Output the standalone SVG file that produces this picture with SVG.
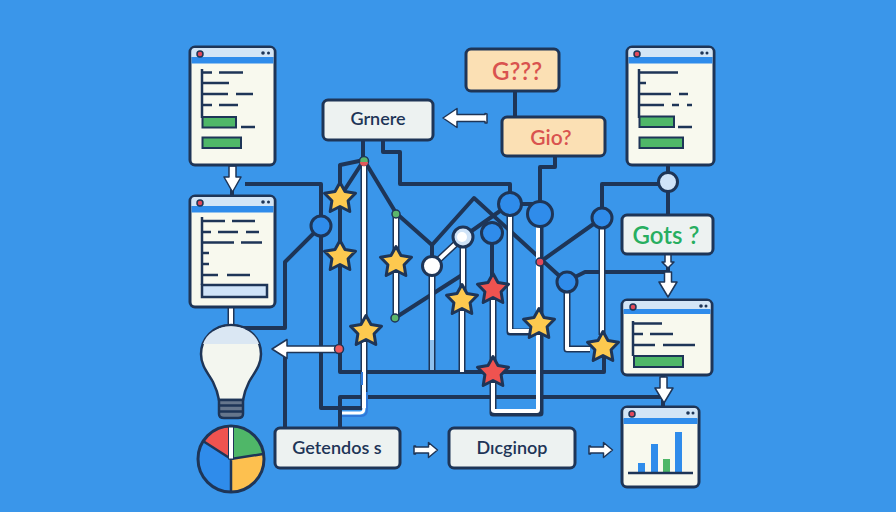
<svg xmlns="http://www.w3.org/2000/svg" width="896" height="512" viewBox="0 0 896 512">
<style>
.bg{fill:#3a96ea}
.w{fill:#f8f9ee;stroke:#1e3557;stroke-width:3}
.bar{fill:#d3e5f6}
.band{fill:#2f8ceb}
.l{stroke:#1e3557;stroke-width:2.5;fill:none}
.g{fill:#4fb768;stroke:#1e3557;stroke-width:2}
.dark{stroke:#1e3557;stroke-width:4;fill:none;stroke-linejoin:round}
.po{stroke:#1e3557;stroke-width:7;fill:none;stroke-linejoin:round}
.pw{stroke:#fff;stroke-width:4;fill:none;stroke-linejoin:round}
.n{fill:#2f8ceb;stroke:#1e3557;stroke-width:3}
.box{stroke:#1e3557;stroke-width:3}
.lt{fill:#edf2f1}
.or{fill:#fbe0b4}
.a{fill:#fff;stroke:#1e3557;stroke-width:1.500;stroke-linejoin:round}
.t{font-family:Lato,"Noto Sans",sans-serif;text-anchor:middle;font-weight:600}
.star{fill:#fdc94f;stroke:#1e3557;stroke-width:3;stroke-linejoin:round}
.rs{fill:#ef5350;stroke:#1e3557;stroke-width:3;stroke-linejoin:round}
.red{fill:#e2495a;stroke:#1e3557;stroke-width:1.500}
.k{fill:#1e3557}
</style>
<defs>
<polygon id="s" points="0,-15.500 5,-6.500 15.500,-4.800 8.100,2.700 9.800,13.500 0,8.500 -9.800,13.500 -8.100,2.700 -15.500,-4.800 -5,-6.500"/>
</defs>
<rect class="bg" width="896" height="512"/>

<g id="connectors">
<path class="dark" d="M245,184H321V408H362"/>
<path class="dark" d="M364,160L340,165V372H604V347"/>
<path class="dark" d="M363,140V160M383,140V152H400V184H510V200"/>
<path class="dark" d="M364,160L340,197M364,160L396,213L432,245L474,198L566,282"/>
<path class="dark" d="M432,243V266"/>
<path class="dark" d="M321,226L285,262V328H243M285,349V428"/>
<path class="dark" d="M340,428V397H661"/>
<path class="dark" d="M395,318L462,275M463,237L510,204M510,204H540"/>
<path class="dark" d="M555,156V167H540V202"/>
<path class="dark" d="M492,233V288"/>
<path class="dark" d="M540,262L602,218V184H668M668,165V215M668,254V272H585L575,277"/>
<path class="dark" d="M515,91V117"/>
<path class="dark" d="M232,165V196M663,375V407"/>
<path class="po" d="M364,160V408"/>
<path class="pw" d="M364,160V408"/>
<path d="M342,413H360Q364,413 364,408" fill="none" stroke="#fff" stroke-width="3"/>
<path d="M342,416H361Q367,416 367,409V392M362,372V385" fill="none" stroke="#2f78d8" stroke-width="2"/>
<path class="po" d="M396,213V317M432,266V372M463,237V290M462,310V372M432,266L463,237"/>
<path class="pw" d="M396,213V317M432,266V340M463,237V290M462,310V372M432,266L463,237"/>
<path stroke="#8fc1ee" stroke-width="4" d="M432,340V370"/>
<path class="po" d="M493,300V413H540V214M510,216V332H530M602,228V335M567,292V349H590"/>
<path class="pw" d="M493,300V410Q493,411 495,411H537Q538,411 538,409V214M510,216V331H530M602,228V335M567,292V349H590"/>
<path class="po" d="M231,307V325"/>
<path class="pw" d="M231,307V325"/>
</g>

<g id="arrows">
<path class="a" d="M229,166h7v11h5l-8.500,15l-8.500,-15h5z"/>
<path class="a" d="M487,114v9h-2v-1.500h-28v6l-14,-9.500l14,-9.500v6h28v-1z"/>
<path class="a" d="M339,346v6.500h-52v6l-15,-9.500l15,-9.500v6.500z"/>
<path class="a" d="M414,446v8h1.500v-1h13v4.500l9,-7.500l-9,-7.500v4.500h-13v-1z" transform="translate(0,0)"/>
<path class="a" d="M589,446v8h1.500v-1h13v4.500l9,-7.500l-9,-7.500v4.500h-13v-1z"/>
<path class="a" d="M665,254h6v8h3l-6,6l-6,-6h3z"/>
<path class="a" d="M664.500,272h7v10h5.500l-9,15l-9,-15h5.500z"/>
<path class="a" d="M660,377h7v11h6l-9,15l-9,-15h5z"/>
</g>

<g id="win1">
<rect class="w" x="190" y="47" width="85" height="118" rx="5"/>
<path class="bar" d="M191.500,50a3,3 0 0 1 3,-2h76a3,3 0 0 1 3,2v7h-82z"/>
<rect class="band" x="191.500" y="57" width="82" height="6.500"/>
<circle class="red" cx="200" cy="54" r="3"/>
<circle class="k" cx="263" cy="53" r="1.800"/><circle class="k" cx="268.500" cy="53" r="1.500"/>
<path class="l" d="M202,69V118M202,72.500H212M219,72.500H243M202,83H229M202,94H228M236,94H253M202,105H212M219,105H238M241,127H255"/>
<rect class="g" x="202.500" y="117" width="33.500" height="10.500"/>
<rect class="g" x="202.500" y="137.500" width="38.500" height="10.500"/>
</g>

<g id="win2">
<rect class="w" x="190" y="196" width="85" height="111" rx="5"/>
<path class="bar" d="M191.500,199a3,3 0 0 1 3,-2h76a3,3 0 0 1 3,2v7h-82z"/>
<rect class="band" x="191.500" y="206" width="82" height="6.500"/>
<circle class="red" cx="200" cy="203" r="3"/>
<circle class="k" cx="263" cy="202" r="1.800"/><circle class="k" cx="268.500" cy="202" r="1.500"/>
<path class="l" d="M202,217V285M202,221H225M232,221H255M202,232H211M218,232H238M246,232H259M202,242.500H234M241,242.500H262M202,253H209M202,264H209M202,275H218M227,275H250"/>
<rect x="202" y="285" width="65" height="12" fill="#cfe3f8" stroke="#1e3557" stroke-width="2.500"/>
</g>

<g id="win3">
<rect class="w" x="627" y="47" width="87" height="118" rx="5"/>
<path class="bar" d="M628.500,50a3,3 0 0 1 3,-2h78a3,3 0 0 1 3,2v7h-84z"/>
<rect class="band" x="628.500" y="57" width="84" height="6.500"/>
<circle class="red" cx="637" cy="54" r="3"/>
<circle class="k" cx="702" cy="53" r="1.800"/><circle class="k" cx="707" cy="53" r="1.500"/>
<path class="l" d="M639,69V118M639,72.500H678M639,83H646M639,94H671M679,94H688M639,105H664M672,105H679M687,105H692M678,127H692"/>
<rect class="g" x="639.500" y="116.500" width="34.500" height="10.500"/>
<rect class="g" x="639.500" y="137.500" width="43.500" height="10.500"/>
</g>

<g id="win4">
<rect class="w" x="622" y="300" width="90" height="75" rx="5"/>
<path class="bar" d="M623.500,303a3,3 0 0 1 3,-2h81a3,3 0 0 1 3,2v7h-87z"/>
<rect class="band" x="623.500" y="309" width="87" height="5"/>
<circle class="red" cx="633" cy="307" r="3"/>
<circle class="k" cx="701" cy="306" r="1.800"/><circle class="k" cx="706" cy="306" r="1.500"/>
<path class="l" d="M633,321V356M633,323.500H662M633,334H643M650,334H673M633,345H655M663,345H695"/>
<rect class="g" x="634" y="356" width="49" height="11"/>
</g>

<g id="win5">
<rect class="w" x="622" y="407" width="77" height="80" rx="5"/>
<path class="bar" d="M623.500,410a3,3 0 0 1 3,-2h68a3,3 0 0 1 3,2v9h-74z"/>
<rect class="band" x="623.500" y="418" width="74" height="6"/>
<circle class="red" cx="632" cy="414" r="3"/>
<circle class="k" cx="688" cy="413" r="1.800"/><circle class="k" cx="693" cy="413" r="1.500"/>
<rect class="band" x="638" y="463" width="7" height="10"/>
<rect class="band" x="651" y="444" width="7" height="29"/>
<rect x="663" y="459" width="7" height="14" fill="#4fb768"/>
<rect class="band" x="675" y="432" width="7" height="41"/>
<path class="l" d="M628,473H693"/>
</g>

<g id="grnere"><rect class="box lt" x="323" y="100" width="110" height="40" rx="5"/><text class="t" x="378" y="125" font-size="18" fill="#1e3557">Grnere</text></g>
<g id="g-q"><rect class="box or" x="466" y="49" width="93" height="42" rx="5"/><text class="t" x="517" y="80" font-size="24" fill="#d9534f">G???</text></g>
<g id="gio"><rect class="box or" x="502" y="117" width="103" height="39" rx="5"/><text class="t" x="551" y="145" font-size="21" fill="#d9534f">Gio?</text></g>
<g id="gots"><rect class="box lt" x="622" y="215" width="91" height="39" rx="5"/><text class="t" x="666" y="244" font-size="24" fill="#27ae60">Gots ?</text></g>
<g id="getendos"><rect class="box lt" x="275" y="428" width="125" height="40" rx="5"/><text class="t" x="337" y="454" font-size="18" fill="#1e3557">Getendos s</text></g>
<g id="dicginop"><rect class="box lt" x="449" y="428" width="126" height="40" rx="5"/><text class="t" x="512" y="454" font-size="18" fill="#1e3557">Dıcginop</text></g>

<g id="junctions">
<circle class="n" cx="321" cy="226" r="10"/>
<circle class="n" cx="510" cy="204" r="11.500"/>
<circle class="n" cx="540" cy="214" r="12.500"/>
<circle class="n" cx="492" cy="233" r="10.500"/>
<circle class="n" cx="602" cy="218" r="10"/>
<circle class="n" cx="567" cy="282" r="10"/>
<circle cx="668" cy="182" r="9.500" fill="#cfe3f8" stroke="#1e3557" stroke-width="3"/>
<circle cx="432" cy="266" r="9.500" fill="#fff" stroke="#1e3557" stroke-width="3"/>
<circle cx="463" cy="237" r="10" fill="#cfe3f8" stroke="#1e3557" stroke-width="3"/>
<circle cx="462" cy="237" r="5" fill="#fff"/>
<circle cx="364" cy="161" r="4.500" fill="#5bb56c" stroke="#1e3557" stroke-width="1.500"/>
<path d="M360,162h8a4,4 0 0 1 -8,0z" fill="#e2595a"/>
<circle cx="396" cy="214" r="4" fill="#5bb56c" stroke="#1e3557" stroke-width="1.500"/>
<circle cx="395" cy="318" r="4" fill="#5bb56c" stroke="#1e3557" stroke-width="1.500"/>
<circle cx="339" cy="349" r="4.500" fill="#ee5a5f" stroke="#1e3557" stroke-width="1.500"/>
<circle cx="540" cy="262" r="4" fill="#e2495a" stroke="#1e3557" stroke-width="1.500"/>
</g>

<g id="stars">
<use href="#s" class="star" x="340" y="198"/>
<use href="#s" class="star" x="340" y="256"/>
<use href="#s" class="star" x="396" y="262"/>
<use href="#s" class="star" x="366" y="331"/>
<use href="#s" class="star" x="462" y="300"/>
<use href="#s" class="rs" x="493" y="289"/>
<use href="#s" class="star" x="539" y="324"/>
<use href="#s" class="star" x="603" y="347"/>
<use href="#s" class="rs" x="493" y="372"/>
</g>

<g id="bulb">
<path d="M231,325C213,325 201,339 201,354C201,366 208,373 213,382C216,388 218,394 219,400H243C244,394 246,388 249,382C254,373 261,366 261,354C261,339 249,325 231,325Z" fill="#f3f6ef" stroke="#1e3557" stroke-width="2.500"/>
<path d="M231,326.500C217,326.500 206,334 203,344H259C256,334 245,326.500 231,326.500Z" fill="#dae7f3"/>
<path d="M219,400H243V414Q243,418 238,418H224Q219,418 219,414Z" fill="#66768c" stroke="#1e3557" stroke-width="2.500"/>
<path d="M218,405.500H244M218,411.500H244" stroke="#1e3557" stroke-width="2.500"/>
</g>

<g id="pie">
<circle cx="231" cy="459" r="33" fill="#2f8ceb"/>
<path d="M231,459V426A33,33 0 0 0 203,441Z" fill="#ef5350"/>
<path d="M231,459V426A33,33 0 0 1 263,454Z" fill="#4fb768"/>
<path d="M231,459L263,454A33,33 0 0 1 231,492Z" fill="#fdc04f"/>
<circle cx="231" cy="459" r="33" fill="none" stroke="#1e3557" stroke-width="3"/>
<path d="M203,441L231,459L263,454M231,459V492" fill="none" stroke="#1e3557" stroke-width="2.500"/>
<rect x="228.500" y="427" width="5" height="32" fill="#fff" stroke="#1e3557" stroke-width="1"/>
</g>
</svg>
